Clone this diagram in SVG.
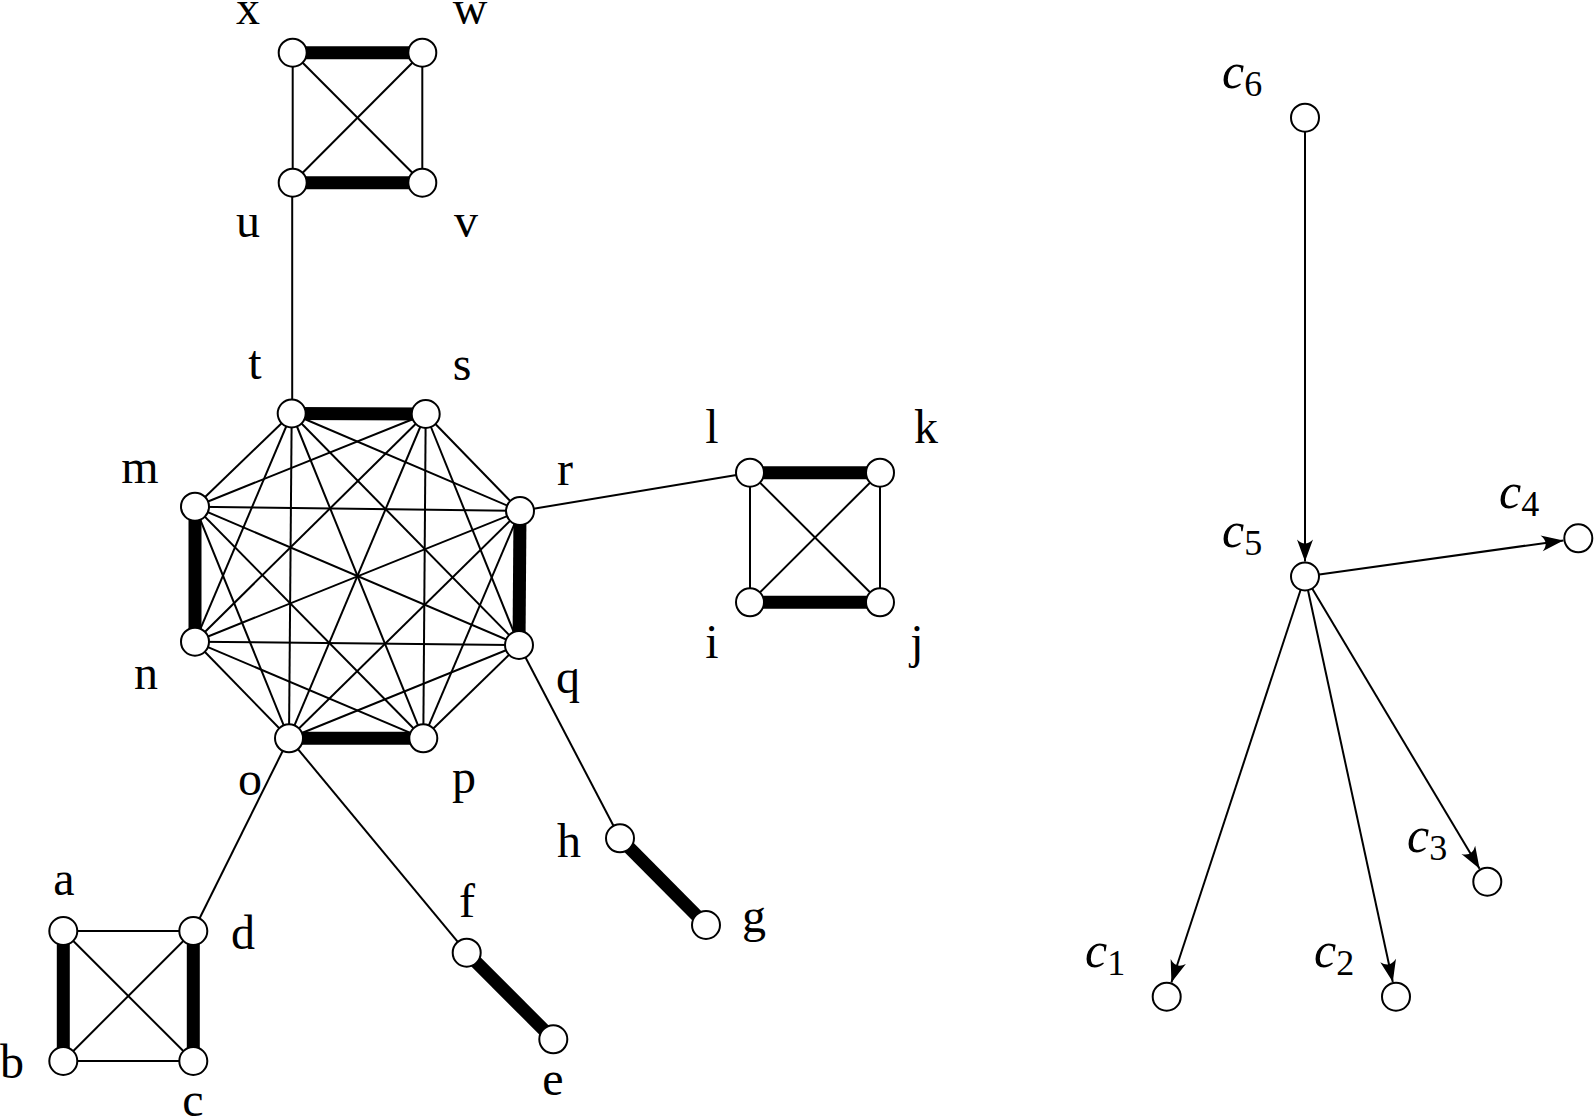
<svg xmlns="http://www.w3.org/2000/svg" width="1594" height="1120" viewBox="0 0 1594 1120">
<style>
.e{stroke:#000;stroke-width:2;fill:none}
.th{stroke:#000;stroke-width:13;fill:none}
.ar{stroke:#000;stroke-width:2;fill:none;marker-end:url(#arr)}
.n{fill:#fff;stroke:#000;stroke-width:2}
.lb{font-family:"Liberation Serif",serif;font-size:48px;fill:#000;text-anchor:middle}
.cl{font-family:"Liberation Serif",serif;font-size:50px;fill:#000}
.ci{font-style:italic}
.sb{font-size:36px}
</style>
<defs>
<marker id="arr" markerUnits="userSpaceOnUse" markerWidth="26" markerHeight="20" viewBox="-24 -10 26 20" refX="0" refY="0" orient="auto">
<path d="M0,0 L-22,-8 Q-14,0 -22,8 Z" fill="#000"/>
</marker>
</defs>
<rect width="1594" height="1120" fill="#fff"/>
<g id="connectors">
<line class="th" x1="292.7" y1="52.7" x2="422.3" y2="52.7"/>
<line class="th" x1="292.7" y1="182.7" x2="422.3" y2="182.7"/>
<line class="e" x1="292.7" y1="52.7" x2="292.7" y2="182.7"/>
<line class="e" x1="422.3" y1="52.7" x2="422.3" y2="182.7"/>
<line class="e" x1="292.7" y1="52.7" x2="422.3" y2="182.7"/>
<line class="e" x1="422.3" y1="52.7" x2="292.7" y2="182.7"/>
<line class="e" x1="292.2" y1="182.7" x2="292.2" y2="413.5"/>
<line class="th" x1="291.7" y1="413.5" x2="425.7" y2="414"/>
<line class="th" x1="195" y1="506.7" x2="195" y2="641.7"/>
<line class="th" x1="520" y1="511" x2="519" y2="645"/>
<line class="th" x1="289" y1="738.3" x2="423.3" y2="738.3"/>
<line class="e" x1="291.7" y1="413.5" x2="520" y2="511"/>
<line class="e" x1="291.7" y1="413.5" x2="519" y2="645"/>
<line class="e" x1="291.7" y1="413.5" x2="423.3" y2="738.3"/>
<line class="e" x1="291.7" y1="413.5" x2="289" y2="738.3"/>
<line class="e" x1="291.7" y1="413.5" x2="195" y2="641.7"/>
<line class="e" x1="291.7" y1="413.5" x2="195" y2="506.7"/>
<line class="e" x1="425.7" y1="414" x2="520" y2="511"/>
<line class="e" x1="425.7" y1="414" x2="519" y2="645"/>
<line class="e" x1="425.7" y1="414" x2="423.3" y2="738.3"/>
<line class="e" x1="425.7" y1="414" x2="289" y2="738.3"/>
<line class="e" x1="425.7" y1="414" x2="195" y2="641.7"/>
<line class="e" x1="425.7" y1="414" x2="195" y2="506.7"/>
<line class="e" x1="520" y1="511" x2="423.3" y2="738.3"/>
<line class="e" x1="520" y1="511" x2="289" y2="738.3"/>
<line class="e" x1="520" y1="511" x2="195" y2="641.7"/>
<line class="e" x1="520" y1="511" x2="195" y2="506.7"/>
<line class="e" x1="519" y1="645" x2="423.3" y2="738.3"/>
<line class="e" x1="519" y1="645" x2="289" y2="738.3"/>
<line class="e" x1="519" y1="645" x2="195" y2="641.7"/>
<line class="e" x1="519" y1="645" x2="195" y2="506.7"/>
<line class="e" x1="423.3" y1="738.3" x2="195" y2="641.7"/>
<line class="e" x1="423.3" y1="738.3" x2="195" y2="506.7"/>
<line class="e" x1="289" y1="738.3" x2="195" y2="641.7"/>
<line class="e" x1="289" y1="738.3" x2="195" y2="506.7"/>
<line class="e" x1="520" y1="511" x2="750" y2="472.7"/>
<line class="e" x1="519" y1="645" x2="620" y2="838.3"/>
<line class="e" x1="289" y1="738.3" x2="193.3" y2="931"/>
<line class="e" x1="289" y1="738.3" x2="466.7" y2="952.7"/>
<line class="th" x1="750" y1="472.7" x2="880" y2="472.7"/>
<line class="th" x1="750" y1="602.3" x2="880" y2="602.3"/>
<line class="e" x1="750" y1="472.7" x2="750" y2="602.3"/>
<line class="e" x1="880" y1="472.7" x2="880" y2="602.3"/>
<line class="e" x1="750" y1="472.7" x2="880" y2="602.3"/>
<line class="e" x1="880" y1="472.7" x2="750" y2="602.3"/>
<line class="th" x1="620" y1="838.3" x2="706" y2="925"/>
<line class="th" x1="466.7" y1="952.7" x2="553.3" y2="1039.3"/>
<line class="th" x1="63.3" y1="931" x2="63.3" y2="1061"/>
<line class="th" x1="193.3" y1="931" x2="193.3" y2="1061"/>
<line class="e" x1="63.3" y1="931" x2="193.3" y2="931"/>
<line class="e" x1="63.3" y1="1061" x2="193.3" y2="1061"/>
<line class="e" x1="63.3" y1="931" x2="193.3" y2="1061"/>
<line class="e" x1="193.3" y1="931" x2="63.3" y2="1061"/>
<line class="ar" x1="1305" y1="117.7" x2="1305" y2="561.5"/>
<line class="ar" x1="1305" y1="576.5" x2="1563.4" y2="540.4"/>
<line class="ar" x1="1305" y1="576.5" x2="1171.4" y2="982.5"/>
<line class="ar" x1="1305" y1="576.5" x2="1392.8" y2="982"/>
<line class="ar" x1="1305" y1="576.5" x2="1479.6" y2="868.8"/>
</g>
<g id="node-x"><circle class="n" cx="292.7" cy="52.7" r="14"/><text class="lb" x="248" y="24">x</text></g>
<g id="node-w"><circle class="n" cx="422.3" cy="52.7" r="14"/><text class="lb" x="470" y="24">w</text></g>
<g id="node-u"><circle class="n" cx="292.7" cy="182.7" r="14"/><text class="lb" x="248" y="237">u</text></g>
<g id="node-v"><circle class="n" cx="422.3" cy="182.7" r="14"/><text class="lb" x="466" y="237">v</text></g>
<g id="node-t"><circle class="n" cx="291.7" cy="413.5" r="14"/><text class="lb" x="255" y="379">t</text></g>
<g id="node-s"><circle class="n" cx="425.7" cy="414" r="14"/><text class="lb" x="462" y="380">s</text></g>
<g id="node-m"><circle class="n" cx="195" cy="506.7" r="14"/><text class="lb" x="140" y="483">m</text></g>
<g id="node-r"><circle class="n" cx="520" cy="511" r="14"/><text class="lb" x="565" y="485">r</text></g>
<g id="node-n"><circle class="n" cx="195" cy="641.7" r="14"/><text class="lb" x="146" y="689">n</text></g>
<g id="node-q"><circle class="n" cx="519" cy="645" r="14"/><text class="lb" x="568" y="693">q</text></g>
<g id="node-o"><circle class="n" cx="289" cy="738.3" r="14"/><text class="lb" x="250" y="795">o</text></g>
<g id="node-p"><circle class="n" cx="423.3" cy="738.3" r="14"/><text class="lb" x="464" y="793">p</text></g>
<g id="node-l"><circle class="n" cx="750" cy="472.7" r="14"/><text class="lb" x="712" y="443">l</text></g>
<g id="node-k"><circle class="n" cx="880" cy="472.7" r="14"/><text class="lb" x="926" y="443">k</text></g>
<g id="node-i"><circle class="n" cx="750" cy="602.3" r="14"/><text class="lb" x="712" y="658">i</text></g>
<g id="node-j"><circle class="n" cx="880" cy="602.3" r="14"/><text class="lb" x="917" y="658">j</text></g>
<g id="node-h"><circle class="n" cx="620" cy="838.3" r="14"/><text class="lb" x="569" y="857">h</text></g>
<g id="node-g"><circle class="n" cx="706" cy="925" r="14"/><text class="lb" x="754" y="932">g</text></g>
<g id="node-f"><circle class="n" cx="466.7" cy="952.7" r="14"/><text class="lb" x="467" y="917">f</text></g>
<g id="node-e"><circle class="n" cx="553.3" cy="1039.3" r="14"/><text class="lb" x="553" y="1095">e</text></g>
<g id="node-a"><circle class="n" cx="63.3" cy="931" r="14"/><text class="lb" x="64" y="895">a</text></g>
<g id="node-d"><circle class="n" cx="193.3" cy="931" r="14"/><text class="lb" x="243" y="949">d</text></g>
<g id="node-b"><circle class="n" cx="63.3" cy="1061" r="14"/><text class="lb" x="12" y="1078">b</text></g>
<g id="node-c"><circle class="n" cx="193.3" cy="1061" r="14"/><text class="lb" x="193" y="1116">c</text></g>
<g id="node-c6"><circle class="n" cx="1305" cy="117.7" r="14"/><text class="cl" x="1222" y="88"><tspan class="ci">c</tspan><tspan class="sb" dy="8">6</tspan></text></g>
<g id="node-c5"><circle class="n" cx="1305" cy="576.5" r="14"/><text class="cl" x="1222" y="547"><tspan class="ci">c</tspan><tspan class="sb" dy="8">5</tspan></text></g>
<g id="node-c4"><circle class="n" cx="1578.3" cy="538.3" r="14"/><text class="cl" x="1499" y="508"><tspan class="ci">c</tspan><tspan class="sb" dy="8">4</tspan></text></g>
<g id="node-c3"><circle class="n" cx="1487.3" cy="881.7" r="14"/><text class="cl" x="1407" y="852"><tspan class="ci">c</tspan><tspan class="sb" dy="8">3</tspan></text></g>
<g id="node-c2"><circle class="n" cx="1396" cy="996.7" r="14"/><text class="cl" x="1314" y="967"><tspan class="ci">c</tspan><tspan class="sb" dy="8">2</tspan></text></g>
<g id="node-c1"><circle class="n" cx="1166.7" cy="996.7" r="14"/><text class="cl" x="1085" y="967"><tspan class="ci">c</tspan><tspan class="sb" dy="8">1</tspan></text></g>
</svg>
